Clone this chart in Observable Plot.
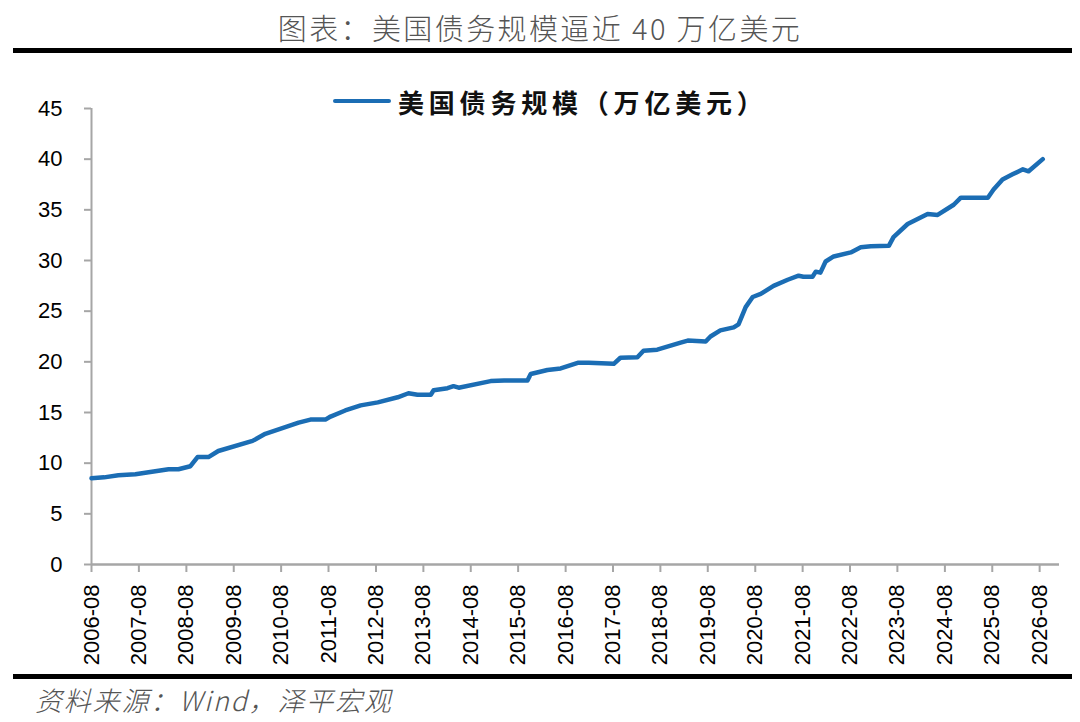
<!DOCTYPE html>
<html>
<head>
<meta charset="utf-8">
<script src="https://cdn.jsdelivr.net/npm/d3@7"></script>
<script src="https://cdn.jsdelivr.net/npm/@observablehq/plot@0.6"></script>
<style>
  html, body { margin: 0; padding: 0; background: #fff; }
  #wrap { position: relative; width: 1080px; height: 722px; overflow: hidden; background: #fff; }
  #title { position: absolute; top: 8px; left: 0; width: 1080px; text-align: center;
    font-family: "Noto Sans CJK SC", sans-serif; font-weight: 300; font-size: 29px; color: #555; letter-spacing: 2.4px; line-height: 38px; }
  .rule { position: absolute; left: 13px; width: 1059px; height: 5px; background: #000; }
  #chart { position: absolute; top: 56px; left: 0; }
  #legend { position: absolute; top: 83px; left: 333px; height: 36px; display: flex; align-items: center; }
  #legend .sw { width: 58px; height: 4.5px; background: #1b6db4; border-radius: 2px; margin-right: 7px; }
  #legend .lb { font-family: "Noto Sans CJK SC", sans-serif; font-weight: 700; font-size: 26px; letter-spacing: 4.8px; color: #111; }
  #caption { position: absolute; top: 682px; left: 35px; font-family: "Noto Sans CJK SC", sans-serif; font-weight: 300;
    font-style: italic; font-size: 27px; color: #555; letter-spacing: 1.8px; line-height: 36px; }
</style>
</head>
<body>
<div id="wrap">
  <div id="title"></div>
  <div class="rule" style="top:48px"></div>
  <div id="chart"></div>
  <div id="legend"><div class="sw"></div><div class="lb"></div></div>
  <div class="rule" style="top:674px"></div>
  <div id="caption"></div>
</div>
<script>
const titleText = "图表：美国债务规模逼近 40 万亿美元";
const seriesName = "美国债务规模（万亿美元）";
const captionText = "资料来源：Wind，泽平宏观";

const xTickLabels = ["2006-08","2007-08","2008-08","2009-08","2010-08","2011-08","2012-08","2013-08","2014-08","2015-08","2016-08","2017-08","2018-08","2019-08","2020-08","2021-08","2022-08","2023-08","2024-08","2025-08","2026-08"];
const yTicks = [0, 5, 10, 15, 20, 25, 30, 35, 40, 45];

const dates = [
  "2006-08-01","2006-11-06","2007-02-24","2007-07-05","2007-10-15","2008-03-17","2008-06-01","2008-09-01","2008-10-26",
  "2009-01-18","2009-04-04","2009-12-24","2010-04-01","2010-12-14","2011-03-15","2011-07-08","2011-08-17","2011-12-08",
  "2012-04-05","2012-08-15","2013-01-15","2013-04-08","2013-06-17","2013-09-27","2013-10-19","2014-02-03","2014-03-21",
  "2014-04-30","2015-01-01","2015-04-15","2015-10-12","2015-11-06","2016-03-14","2016-06-24","2016-11-02","2017-01-26",
  "2017-08-07","2017-09-27","2018-02-05","2018-03-24","2018-07-08","2019-01-04","2019-02-28","2019-07-16","2019-08-22",
  "2019-11-06","2020-02-17","2020-03-25","2020-05-19","2020-07-12","2020-09-12","2020-12-20","2021-04-08","2021-07-01",
  "2021-08-07","2021-10-16","2021-11-10","2021-12-16","2022-01-25","2022-03-28","2022-08-07","2022-10-23","2023-01-08",
  "2023-05-27","2023-07-02","2023-10-19","2024-03-21","2024-06-06","2024-10-08","2024-12-02","2025-06-28","2025-08-11",
  "2025-10-19","2026-01-04","2026-03-25","2026-05-08","2026-08-25"
];
const debt = [
  8.5, 8.6, 8.8, 8.9, 9.1, 9.4, 9.4, 9.7, 10.6,
  10.6, 11.2, 12.2, 12.9, 14.0, 14.3, 14.3, 14.6, 15.2,
  15.7, 16.0, 16.5, 16.9, 16.75, 16.75, 17.2, 17.4, 17.6,
  17.45, 18.1, 18.15, 18.15, 18.8, 19.2, 19.35, 19.9, 19.9,
  19.8, 20.4, 20.45, 21.1, 21.2, 21.9, 22.1, 22.0, 22.5,
  23.1, 23.4, 23.7, 25.4, 26.4, 26.7, 27.5, 28.1, 28.5,
  28.4, 28.4, 28.9, 28.8, 29.9, 30.4, 30.8, 31.3, 31.4,
  31.45, 32.3, 33.6, 34.6, 34.5, 35.5, 36.2, 36.2, 37.0,
  38.0, 38.5, 39.0, 38.8, 40.0
];

const lineColor = "#1b6db4";
const axisColor = "#a6a6a6";

document.getElementById("title").textContent = titleText;
document.querySelector("#legend .lb").textContent = seriesName;
document.getElementById("caption").textContent = captionText;

const parseYM = d3.utcParse("%Y-%m");
const parseD = d3.utcParse("%Y-%m-%d");
const data = dates.map((d, i) => ({date: parseD(d), value: debt[i]}));
const xTicks = xTickLabels.map(parseYM);
const xStart = xTicks[0];
const xEnd = new Date(Date.UTC(2027, 0, 1));

const chart = Plot.plot({
  width: 1080,
  height: 618,
  marginTop: 52,
  marginBottom: 110,
  marginLeft: 91,
  marginRight: 21,
  style: {fontFamily: "'Liberation Sans', Arial, sans-serif", fontSize: "22px", color: "#000", background: "transparent", overflow: "visible"},
  x: {type: "utc", domain: [xStart, xEnd]},
  y: {domain: [0, 45]},
  marks: [
    Plot.axisY({ticks: yTicks, tickSize: 7, tickPadding: 22, stroke: axisColor, strokeWidth: 2, fill: "#000", label: null, fontSize: 22}),
    Plot.axisX({ticks: xTicks, tickFormat: d3.utcFormat("%Y-%m"), tickRotate: -90, tickSize: 8, tickPadding: 12,
      stroke: axisColor, strokeWidth: 2, fill: "#000", label: null, fontSize: 22}),
    Plot.ruleX([xStart], {y1: 0, y2: 45, stroke: axisColor, strokeWidth: 2}),
    Plot.ruleY([0], {stroke: axisColor, strokeWidth: 2.5}),
    Plot.line(data, {x: "date", y: "value", stroke: lineColor, strokeWidth: 4.5, strokeLinejoin: "round", strokeLinecap: "round"})
  ]
});
document.getElementById("chart").appendChild(chart);
</script>
</body>
</html>
